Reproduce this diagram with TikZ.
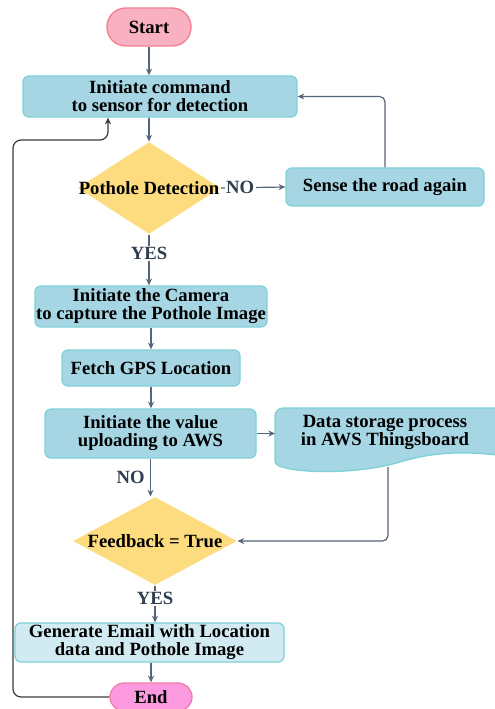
\documentclass[tikz,border=0pt]{standalone}
\usepackage{fontspec}
\setmainfont{Liberation Serif}
\newfontfamily\flowfont{Liberation Serif}
\usetikzlibrary{shapes.geometric,arrows.meta}

\definecolor{procfill}{HTML}{A6D6E3}
\definecolor{procline}{HTML}{7FD1D8}
\definecolor{mailfill}{HTML}{D2EAF1}
\definecolor{decfill}{HTML}{FDDB7F}
\definecolor{startfill}{HTML}{F9B0C1}
\definecolor{startline}{HTML}{F2808F}
\definecolor{stopfill}{HTML}{FC9AE0}
\definecolor{stopline}{HTML}{EE7FA8}
\definecolor{flowline}{HTML}{56657A}
\definecolor{labeltext}{HTML}{2E3D4F}
\definecolor{backline}{HTML}{3A3A3A}

\tikzset{every picture/.style={line width=0.75pt},
	flowtext/.style={font=\flowfont\fontsize{14}{13.5}\selectfont\bfseries, align=center, inner sep=0pt},
	procbox/.style={flowtext, draw=procline, fill=procfill, rounded corners=4.5pt, line width=1pt},
	termbox/.style={flowtext, rounded corners=14pt, line width=1pt},
	decbox/.style={font=\flowfont\fontsize{14}{13.5}\selectfont\bfseries, diamond, fill=decfill, inner sep=0pt},
	flowarrow/.style={draw=flowline, line width=0.9pt, -{Stealth[length=5pt,width=4.5pt]}},
	backarrow/.style={draw=backline, line width=0.9pt, rounded corners=6pt, -{Stealth[length=5pt,width=4.5pt]}},
	yesno/.style={font=\flowfont\fontsize{14}{14}\selectfont\bfseries, text=labeltext, fill=white, inner sep=1pt},
}

\begin{document}
\begin{tikzpicture}[x=0.75pt,y=0.75pt,yscale=-1,xscale=1]
	\useasboundingbox (0,0) rectangle (495,709);

	%Flowchart: Terminator
	\node[termbox, draw=startline, fill=startfill, minimum width=63pt, minimum height=28.5pt] (start) at (149,27) {Start};
	%Flowchart: Process
	\node[procbox, minimum width=205.5pt, minimum height=30.75pt] (init) at (160,96.5) {Initiate command\\to sensor for detection};
	%Flowchart: Decision
	\node[decbox, minimum width=107pt, minimum height=69pt] (detect) at (149,188) {\makebox[0pt]{Pothole Detection}};
	%Flowchart: Process
	\node[procbox, minimum width=148.5pt, minimum height=28.5pt] (sense) at (385,187) {Sense the road again};
	%Flowchart: Process
	\node[procbox, minimum width=174pt, minimum height=30.75pt] (camera) at (151,306.5) {Initiate the Camera\\to capture the Pothole Image};
	%Flowchart: Process
	\node[procbox, minimum width=133.5pt, minimum height=27pt] (gps) at (151,368) {Fetch GPS Location};
	%Flowchart: Process
	\node[procbox, minimum width=158.25pt, minimum height=36.75pt] (upload) at (150.5,433.5) {Initiate the value\\uploading to AWS};

	%Flowchart: Document
	\draw [draw=procline, fill=procfill, line width=1pt] (275,460) -- (275,416) .. controls (275,411) and (279,408) .. (284,408) -- (505,408) -- (505,456) .. controls (460,450) and (430,453) .. (400,462) .. controls (360,474) and (300,474) .. (279,466) .. controls (276,465) and (275,463) .. (275,460) -- cycle ;
	\node[flowtext] (store) at (385,432) {Data storage process\\in AWS Thingsboard};
	\coordinate (storeW) at (275,433.5);
	\coordinate (storeS) at (388,467);

	%Flowchart: Decision
	\node[decbox, minimum width=123pt, minimum height=66pt] (feedback) at (155,541) {\makebox[0pt]{Feedback = True}};
	%Flowchart: Process
	\node[procbox, fill=mailfill, minimum width=201.75pt, minimum height=29.25pt] (mail) at (149.5,642.5) {Generate Email with Location\\data and Pothole Image};
	%Flowchart: Terminator
	\node[termbox, draw=stopline, fill=stopfill, minimum width=61.5pt, minimum height=21pt, rounded corners=10.5pt] (stop) at (151,697) {End};

	%Straight Lines
	\draw [flowarrow] (start.south) -- (start.south |- init.north) ;
	\draw [flowarrow] (init.south -| detect.north) -- (detect.north) ;
	\draw [flowarrow] (detect.east) -- (sense.west) node [yesno, pos=0.3] {NO} ;
	\draw [flowarrow, rounded corners=4pt] (sense.north) |- (init.east) ;
	\draw [flowarrow] (detect.south) -- (detect.south |- camera.north) node [yesno, pos=0.38] {YES} ;
	\draw [flowarrow] (camera.south) -- (gps.north) ;
	\draw [flowarrow] (gps.south) -- (gps.south |- upload.north) ;
	\draw [flowarrow] (upload.east) -- (storeW) ;
	\draw [flowarrow] (upload.south) -- (upload.south |- feedback.north) node [yesno, fill=none, anchor=east, pos=0.5, xshift=-3pt] {NO} ;
	\draw [flowarrow, rounded corners=4pt] (storeS) |- (feedback.east) ;
	\draw [flowarrow] (feedback.south) -- (feedback.south |- mail.north) node [yesno, pos=0.35] {YES} ;
	\draw [flowarrow] (mail.south -| stop.north) -- (stop.north) ;
	%Back to start
	\draw [backarrow] (stop.west) -| (13,140) -| ([xshift=-39pt]init.south) ;

\end{tikzpicture}
\end{document}
